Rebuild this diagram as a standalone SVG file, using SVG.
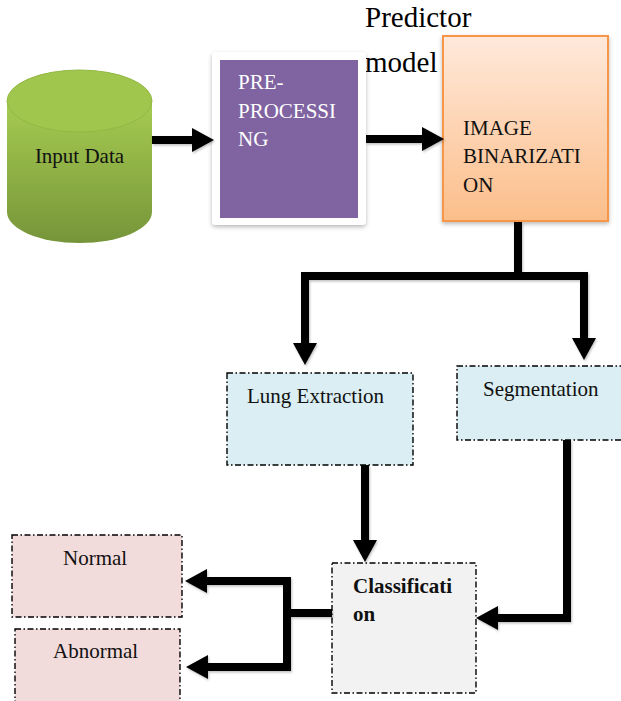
<svg xmlns="http://www.w3.org/2000/svg" width="621" height="701" viewBox="0 0 621 701">
  <defs>
    <linearGradient id="cylBody" x1="0" y1="0" x2="0" y2="1">
      <stop offset="0" stop-color="#A6CB50"/>
      <stop offset="1" stop-color="#76953A"/>
    </linearGradient>
    <linearGradient id="binFill" x1="0" y1="0" x2="0" y2="1">
      <stop offset="0" stop-color="#FFE9DB"/>
      <stop offset="1" stop-color="#FBBE8A"/>
    </linearGradient>
    <filter id="soft" x="-10%" y="-10%" width="120%" height="125%">
      <feDropShadow dx="0" dy="2" stdDeviation="2" flood-color="#000" flood-opacity="0.28"/>
    </filter>
    <filter id="lineShadow" x="-10%" y="-10%" width="120%" height="130%">
      <feDropShadow dx="1" dy="1.5" stdDeviation="1" flood-color="#000" flood-opacity="0.25"/>
    </filter>
    <marker id="head" markerUnits="userSpaceOnUse" markerWidth="22" markerHeight="24" refX="0" refY="12" orient="auto">
      <path d="M0,0 L22,12 L0,24 Z" fill="#000"/>
    </marker>
  </defs>
  <style>
    .t { font-family: "Liberation Serif", "Times New Roman", serif; font-size: 21px; fill: #111; }
    .w { fill: #fff; }
    .big { font-size: 29px; fill: #000; }
    .b { font-weight: bold; }
    .dd { stroke: #000; stroke-width: 1.4; stroke-dasharray: 6 2.5 1.5 2.5; }
    .conn path { fill: none; stroke: #000; stroke-width: 8; stroke-linejoin: miter; }
    .arr { marker-end: url(#head); }
  </style>

  <!-- heading beside the binarization block -->
  <text class="t big" x="365" y="27">Predictor</text>
  <text class="t big" x="365" y="72">model</text>

  <g id="input-data">
    <path d="M7,101 V212 A72.5,31 0 0 0 152,212 V101 Z" fill="url(#cylBody)"/>
    <ellipse cx="79.5" cy="101" rx="72.5" ry="31" fill="#A0C64D" stroke="#93B845" stroke-width="1"/>
    <text class="t" x="79.5" y="163" text-anchor="middle">Input Data</text>
  </g>

  <g id="pre-processing">
    <rect x="212" y="52" width="154" height="173" rx="4" fill="#fff" filter="url(#soft)"/>
    <rect x="220" y="60" width="138" height="158" fill="#8064A2"/>
    <text class="t w" x="238" y="89">PRE-</text>
    <text class="t w" x="238" y="118">PROCESSI</text>
    <text class="t w" x="238" y="146">NG</text>
  </g>

  <g id="image-binarization">
    <rect x="443" y="36" width="165" height="185" fill="url(#binFill)" stroke="#F79646" stroke-width="2" filter="url(#soft)"/>
    <text class="t" x="463" y="135">IMAGE</text>
    <text class="t" x="463" y="163">BINARIZATI</text>
    <text class="t" x="463" y="192">ON</text>
  </g>

  <g id="lung-extraction">
    <rect x="227" y="373" width="186" height="92" fill="#DAEEF3" class="dd"/>
    <text class="t" x="247" y="403">Lung Extraction</text>
  </g>

  <g id="segmentation">
    <rect x="457" y="366" width="170" height="74" fill="#DAEEF3" class="dd"/>
    <text class="t" x="483" y="396">Segmentation</text>
  </g>

  <g id="classification">
    <rect x="332" y="563" width="144" height="130" fill="#F2F2F2" class="dd"/>
    <text class="t b" x="353" y="593">Classificati</text>
    <text class="t b" x="353" y="621">on</text>
  </g>

  <g id="normal">
    <rect x="12" y="535" width="170" height="82" fill="#F2DCDB" class="dd"/>
    <text class="t" x="63" y="565">Normal</text>
  </g>

  <g id="abnormal">
    <rect x="15" y="629" width="165" height="80" fill="#F2DCDB" class="dd"/>
    <text class="t" x="53" y="658">Abnormal</text>
  </g>

  <g id="connectors" class="conn" filter="url(#lineShadow)">
    <path class="arr" d="M152,140 H192"/>
    <path class="arr" d="M366,139 H422"/>
    <path class="arr" d="M518,222 V276 H305 V343"/>
    <path class="arr" d="M518,276 H584 V338"/>
    <path class="arr" d="M365,465 V540"/>
    <path class="arr" d="M567,440 V618 H498"/>
    <path d="M332,613 H287"/>
    <path d="M287,577 V671"/>
    <path class="arr" d="M287,581 H207"/>
    <path class="arr" d="M287,667 H208"/>
  </g>
</svg>
